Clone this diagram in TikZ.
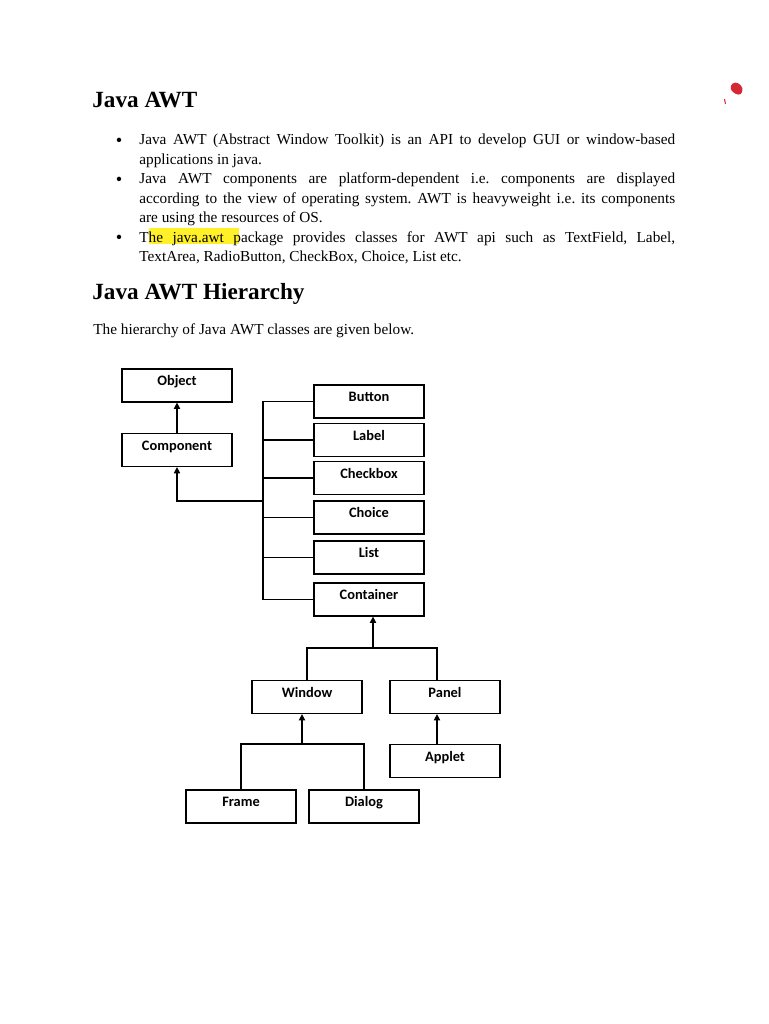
\documentclass[tikz,border=0pt]{standalone}
\usepackage{fontspec}
\setmainfont{Liberation Serif}
\newfontfamily\diafont{Carlito}
\usepackage{xcolor}
\definecolor{hlyellow}{RGB}{255,240,40}
\definecolor{markred}{RGB}{214,40,52}
\usetikzlibrary{arrows.meta,positioning,calc}

\makeatletter
\newcommand\awtlist{%
  \setlength{\leftmargini}{0.92cm}%
  \def\labelitemi{\raisebox{-0.9pt}{\fontsize{10.5}{10}\selectfont\textbullet}}%
  \def\@listi{\leftmargin\leftmargini\topsep\z@\partopsep\z@\parsep\z@\itemsep\z@\labelsep 0.34cm}}
\makeatother

\begin{document}
\begin{tikzpicture}[x=0.02cm,y=-0.02cm,
  cls/.style={rectangle,draw,line width=0.7pt,minimum width=2.2cm,minimum height=0.66cm,inner sep=0pt,text height=6pt,text depth=6pt,font=\diafont\fontsize{8.2}{10}\selectfont\bfseries},
  link/.style={line width=0.7pt},
  arr/.style={link,-{Triangle[length=3.6pt,width=3.6pt]}},
  head/.style={anchor=base west,inner sep=0pt,font=\fontsize{13.2}{16}\selectfont\bfseries},
  body/.style={inner sep=0pt,font=\fontsize{8.7}{11.15}\selectfont}
]
  \useasboundingbox[fill=white] (0,0) rectangle (768,1024);

  % Page text
  \fill[hlyellow] (149,228) rectangle (239,244);
  \node[head] (h1) at (92,107.3) {Java AWT};
  \node[body,anchor=north west,text width=11.64cm,align=justify] (bul) at (93,124.5) {%
    \frenchspacing\hyphenpenalty=10000 \exhyphenpenalty=10000 \awtlist
    \begin{itemize}
      \item\strut Java AWT (Abstract Window Toolkit) is an API to develop GUI or window-based\linebreak
        applications in java.
      \item\strut Java AWT components are platform-dependent i.e. components are displayed\linebreak
        according to the view of operating system. AWT is heavyweight i.e. its components\linebreak
        are using the resources of OS.
      \item\strut The java.awt package provides classes for AWT api such as TextField, Label,\linebreak
        TextArea, RadioButton, CheckBox, Choice, List etc.
    \end{itemize}};
  \node[head] (h2) at (92,299.5) {Java AWT Hierarchy};
  \node[body,anchor=base west] (intro) at (93,334) {The hierarchy of Java AWT classes are given below.};

  % Class boxes
  \node[cls] (obj) at (177,385.5) {Object};
  \node[cls] (comp) at (177,450) {Component};
  \node[cls] (btn) at (369,401.5) {Button};
  \node[cls] (lbl) at (369,440) {Label};
  \node[cls] (chk) at (369,478) {Checkbox};
  \node[cls] (cho) at (369,517.5) {Choice};
  \node[cls] (lst) at (369,557.5) {List};
  \node[cls] (cont) at (369,599.5) {Container};
  \node[cls] (win) at (307,697) {Window};
  \node[cls] (pan) at (445,697) {Panel};
  \node[cls] (app) at (445,761) {Applet};
  \node[cls] (frm) at (241,806.5) {Frame};
  \node[cls] (dlg) at (364,806.5) {Dialog};

  % Component subclasses
  \draw[arr] (comp) -- (obj);
  \coordinate (trunk) at (263,501);
  \draw[link] (btn.west) -| (trunk) |- (cont.west);
  \foreach \c in {lbl,chk,cho,lst}
    \draw[link] (\c.west) -- (\c.west -| trunk);
  \draw[arr] (trunk) -| (comp.south);

  % Container subclasses
  \coordinate (contj) at (373,648);
  \draw[arr] (contj) -- (contj |- cont.south);
  \draw[link] (win.north) |- (contj) -| ($(pan.north)+(-8,0)$);

  % Window subclasses
  \coordinate (winj) at (302,744);
  \draw[arr] (winj) -- (winj |- win.south);
  \draw[link] (frm.north) |- (winj) -| (dlg.north);

  % Panel subclass
  \draw[arr] ($(app.north)+(-8,0)$) -- ($(pan.south)+(-8,0)$);

  % red mark
  \fill[markred,rounded corners=1.5pt] (732,83) -- (738,82.5) -- (743,88) -- (741,95) -- (735,94) -- (730,89) -- cycle;
  \draw[markred,line width=0.6pt] (724.5,99) -- (725.5,104);
\end{tikzpicture}
\end{document}
